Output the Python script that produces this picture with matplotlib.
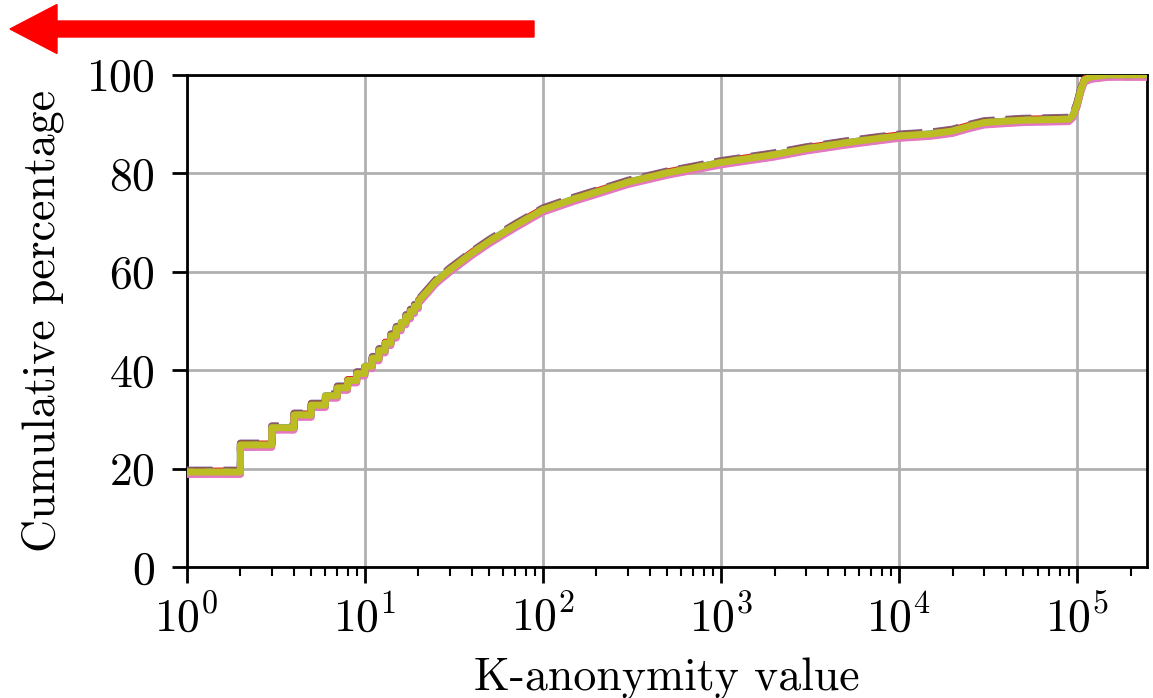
import numpy as np
import matplotlib
matplotlib.use("Agg")
import matplotlib.pyplot as plt
from matplotlib.patches import FancyArrow

plt.rcParams['font.family'] = 'cmr10'
plt.rcParams['mathtext.fontset'] = 'cm'
plt.rcParams['axes.unicode_minus'] = False
plt.rcParams['axes.formatter.use_mathtext'] = True
plt.rcParams['font.size'] = 33

# small K values: the CDF climbs in visible steps
step_k = [1, 2, 3, 4, 5, 6, 7, 8, 9, 10, 11, 12, 13, 14, 15, 16, 17, 18, 19, 20]
step_pct = [19.3, 24.8, 28.3, 30.9, 32.9, 34.8, 36.4, 37.9, 39.3, 40.8,
            42.4, 44.0, 45.5, 47.0, 48.5, 49.7, 50.9, 52.0, 53.0, 54.0]
# larger K values: smooth part
smooth_k = [20, 25, 30, 40, 50, 70, 100, 150, 200, 300, 500, 700, 1000,
            2000, 3000, 5000, 7000, 10000, 15000, 20000, 25000, 30000,
            40000, 50000, 90000, 95000, 100000, 105000, 110000, 120000,
            150000, 250000]
smooth_pct = [54.0, 58.0, 60.4, 63.8, 66.2, 69.4, 72.6, 74.8, 76.2, 78.2,
              80.1, 81.1, 82.2, 83.8, 85.0, 86.2, 86.9, 87.6, 88.0, 88.6,
              89.6, 90.3, 90.6, 90.8, 91.0, 91.8, 94.0, 97.0, 99.0, 99.6,
              100.0, 100.0]

# small spread between the 9 overlapping runs
run_shift = [0.0, -0.4, -0.2, 0.2, 0.4, 0.3, -0.5, 0.1, 0.0]
run_styles = ['-', '--', '-', '-.', '--', '--', '-', ':', '-']

sx = np.repeat(step_k, 2)[1:]
sy = np.repeat(step_pct, 2)[:-1]
k_all = np.concatenate([sx, smooth_k[1:]])
pct_all = np.concatenate([sy, smooth_pct[1:]])

fig = plt.figure(figsize=(11.53, 6.98), dpi=100)
ax = fig.add_axes([0.162, 0.1877, 0.833, 0.705])

for i, (dy, ls) in enumerate(zip(run_shift, run_styles)):
    y = np.minimum(pct_all + dy, 100.0)
    ax.plot(k_all, y, color='C%d' % i, lw=5, ls=ls, zorder=3 + i)

ax.set_xscale('log')
ax.set_xlim(1, 2.48e5)
ax.set_ylim(0, 100)
ax.set_yticks([0, 20, 40, 60, 80, 100])
ax.grid(True, color='#b0b0b0', lw=2)
ax.set_axisbelow(True)
for s in ax.spines.values():
    s.set_linewidth(2)
ax.tick_params(axis='x', which='major', direction='out', length=11.5, width=2, pad=8)
ax.tick_params(axis='x', which='minor', direction='out', length=6.5, width=1.5)
ax.tick_params(axis='y', which='major', direction='out', length=11, width=2, pad=12)

ax.set_xlabel('K-anonymity value', labelpad=12)
ax.set_ylabel('Cumulative percentage', labelpad=16)

arrow = FancyArrow(5.34, 6.69, -5.24, 0, width=0.16, head_width=0.49,
                   head_length=0.47, length_includes_head=True,
                   color='red', transform=fig.dpi_scale_trans)
fig.patches.append(arrow)

fig.savefig('out.png', dpi=100)
